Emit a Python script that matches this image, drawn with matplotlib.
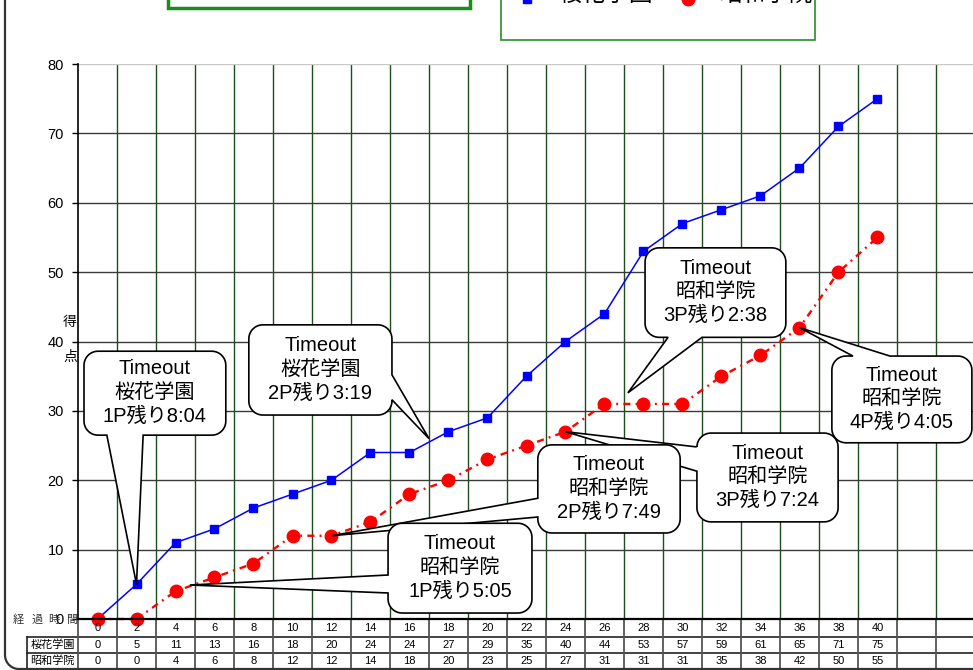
import numpy as np
import matplotlib
matplotlib.use('Agg')
import matplotlib.pyplot as plt
from matplotlib.patches import Polygon, Rectangle
from matplotlib.lines import Line2D

# ---------------- data ----------------
times = [0, 2, 4, 6, 8, 10, 12, 14, 16, 18, 20, 22, 24, 26, 28, 30, 32, 34, 36, 38, 40]
ouka = [0, 5, 11, 13, 16, 18, 20, 24, 24, 27, 29, 35, 40, 44, 53, 57, 59, 61, 65, 71, 75]
showa = [0, 0, 4, 6, 8, 12, 12, 14, 18, 20, 23, 25, 27, 31, 31, 31, 35, 38, 42, 50, 55]
series_names = ['桜花学園', '昭和学院']
y_ticks = [0, 10, 20, 30, 40, 50, 60, 70, 80]
x_title = '経過時間'
y_title = '得点'
n_cols = 23

callout_texts = [
    'Timeout\n桜花学園\n1P残り8:04',
    'Timeout\n桜花学園\n2P残り3:19',
    'Timeout\n昭和学院\n3P残り2:38',
    'Timeout\n昭和学院\n4P残り4:05',
    'Timeout\n昭和学院\n3P残り7:24',
    'Timeout\n昭和学院\n2P残り7:49',
    'Timeout\n昭和学院\n1P残り5:05',
]

FONT = ['Liberation Sans', 'Noto Sans CJK JP']
plt.rcParams['font.family'] = FONT

W, H = 973, 670
fig = plt.figure(figsize=(W / 100, H / 100), dpi=100)
fig.patch.set_facecolor('white')


def fx(x):
    return x / W


def fy(y):
    return 1 - y / H


# ---------------- main axes ----------------
ax = fig.add_axes([78 / W, 1 - 619 / H, 897 / W, 555 / H])
ax.set_xlim(0, n_cols)
ax.set_ylim(0, 80)
ax.set_facecolor('white')
for s in ['top', 'right', 'bottom']:
    ax.spines[s].set_visible(False)
ax.spines['left'].set_linewidth(1.2)
ax.spines['left'].set_color('black')
ax.set_xticks([])
ax.set_yticks(y_ticks)
ax.set_yticklabels([str(v) for v in y_ticks], fontsize=10.5)
ax.tick_params(axis='y', direction='out', length=4, width=1, pad=6)

for k in range(1, n_cols + 1):
    ax.axvline(k, color='#1e4d1e', lw=1.0, zorder=1)
for v in y_ticks[1:-1]:
    ax.axhline(v, color='#3a3a3a', lw=1.0, zorder=1)
ax.axhline(80, color='#c8c8c8', lw=1.0, zorder=1)

xs = np.arange(len(times)) + 0.5
ax.plot(xs, ouka, color='#0000ff', lw=1.1, marker='s', ms=5.5, zorder=4, clip_on=False)
ax.plot(xs, showa, color='#ff0000', lw=1.7, ls=(0, (3, 2.2, 0.8, 2.2)),
        marker='o', ms=9, zorder=4, clip_on=False)

# y title (stacked)
fig.text(fx(70), fy(322), y_title[0], fontsize=10, ha='center', va='center')
fig.text(fx(70), fy(357), y_title[1], fontsize=10, ha='center', va='center')


# ---------------- callouts ----------------
def callout(ax, box, edge, base, tip, text, r=14, fs=14.5, z=6):
    x0, x1, y0, y1 = box
    xl, yl = ax.get_xlim(), ax.get_ylim()
    sx = ax.bbox.width / (xl[1] - xl[0])
    sy = ax.bbox.height / (yl[1] - yl[0])
    rx, ry = r / sx, r / sy

    def arc(cx, cy, a0, a1, n=12):
        t = np.radians(np.linspace(a0, a1, n))
        return [(cx + rx * np.cos(tt), cy + ry * np.sin(tt)) for tt in t]

    pts = [(x0 + rx, y0)]
    if edge == 'bottom':
        a, b = sorted(base)
        pts += [(a, y0), tip, (b, y0)]
    pts += arc(x1 - rx, y0 + ry, -90, 0)
    if edge == 'right':
        a, b = sorted(base)
        pts += [(x1, a), tip, (x1, b)]
    pts += arc(x1 - rx, y1 - ry, 0, 90)
    if edge == 'top':
        a, b = sorted(base, reverse=True)
        pts += [(a, y1), tip, (b, y1)]
    pts += arc(x0 + rx, y1 - ry, 90, 180)
    if edge == 'left':
        a, b = sorted(base, reverse=True)
        pts += [(x0, a), tip, (x0, b)]
    pts += arc(x0 + rx, y0 + ry, 180, 270)
    poly = Polygon(pts, closed=True, facecolor='white', edgecolor='black',
                   lw=1.2, zorder=z, clip_on=False, joinstyle='miter')
    ax.add_patch(poly)
    ax.text((x0 + x1) / 2, (y0 + y1) / 2 + 0.1, text, ha='center', va='center',
            fontsize=fs, linespacing=1.3, zorder=z + 0.5)


callout(ax, (0.154, 3.79, 26.5, 38.6), 'bottom', (0.74, 1.67), (xs[1], ouka[1]), callout_texts[0], z=6)
callout(ax, (4.38, 8.05, 29.4, 42.4), 'right', (31.6, 35.2), ((xs[8] + xs[9]) / 2, 26.0), callout_texts[1], z=7)
callout(ax, (14.54, 18.15, 40.6, 53.5), 'bottom', (15.13, 16.0), (14.1, 32.6), callout_texts[2], z=8)
callout(ax, (19.33, 22.92, 25.4, 37.9), 'top', (19.87, 20.82), (xs[18], showa[18]), callout_texts[3], z=9)
callout(ax, (15.87, 19.49, 14.0, 26.8), 'left', (21.3, 24.8), (xs[12], showa[12]), callout_texts[4], z=10)
callout(ax, (11.79, 15.44, 12.4, 25.1), 'left', (14.7, 17.4), (xs[6], showa[6]), callout_texts[5], z=11)
callout(ax, (7.95, 11.64, 0.86, 13.8), 'left', (3.75, 6.34), (2.87, 4.9), callout_texts[6], z=12)

# ---------------- data table ----------------
axt = fig.add_axes([78 / W, 0, 897 / W, 51 / H])
axt.set_xlim(0, n_cols)
axt.set_ylim(670, 619)
axt.axis('off')
lbl_left = -51 / 39.0
tcol = '#555555'
axt.plot([0, n_cols], [619, 619], color='black', lw=1.6, clip_on=False, zorder=3)
for yy in [636.5, 652.5, 668.5]:
    axt.plot([lbl_left, n_cols], [yy, yy], color='#222222', lw=1.2, clip_on=False)
for k in range(0, n_cols + 1):
    axt.plot([k, k], [619, 669], color=tcol, lw=1.3, clip_on=False)
axt.plot([lbl_left, lbl_left], [636.5, 668.5], color='#222222', lw=1.2, clip_on=False)

for i, t in enumerate(times):
    axt.text(i + 0.5, 628, str(t), ha='center', va='center', fontsize=8, clip_on=False)
    axt.text(i + 0.5, 645, str(ouka[i]), ha='center', va='center', fontsize=8, clip_on=False)
    axt.text(i + 0.5, 661, str(showa[i]), ha='center', va='center', fontsize=8, clip_on=False)
axt.text(lbl_left / 2, 645, series_names[0], ha='center', va='center', fontsize=8, clip_on=False)
axt.text(lbl_left / 2, 661, series_names[1], ha='center', va='center', fontsize=8, clip_on=False)

# x-axis title, spaced characters
for ch, px in zip(x_title, [18, 37, 54, 73]):
    fig.text(fx(px), fy(620), ch, ha='center', va='center', fontsize=8, color='#333333')

# ---------------- chart-area frame ----------------
t = np.radians(np.linspace(0, 90, 20))
bx = [5, 5] + list(19 - 14 * np.cos(t)) + [1000]
by = [-10, 655] + list(655 + 14 * np.sin(t)) + [669]
fig.add_artist(Line2D([fx(v) for v in bx], [fy(v) for v in by], color='#333333', lw=1.6,
                      transform=fig.transFigure))

# ---------------- title box (cut off) ----------------
fig.add_artist(Rectangle((fx(168), fy(8)), (470 - 168) / W, 40 / H, transform=fig.transFigure,
                         facecolor='white', edgecolor='#1a8c1a', lw=2.5))

# ---------------- legend (cut off) ----------------
fig.add_artist(Rectangle((fx(501), fy(40)), (815 - 501) / W, 60 / H, transform=fig.transFigure,
                         facecolor='white', edgecolor='#2a8c2a', lw=1.2))
fig.add_artist(Line2D([fx(527)], [fy(-1)], marker='s', color='#0000ff', ms=5.5, ls='none',
                      transform=fig.transFigure))
fig.add_artist(Line2D([fx(688)], [fy(-1.5)], marker='o', color='#ff0000', ms=9, ls='none',
                      transform=fig.transFigure))
fig.text(fx(558), fy(-5), series_names[0], ha='left', va='center', fontsize=17)
fig.text(fx(718), fy(-5), series_names[1], ha='left', va='center', fontsize=17)

fig.savefig('out.png', dpi=100)
